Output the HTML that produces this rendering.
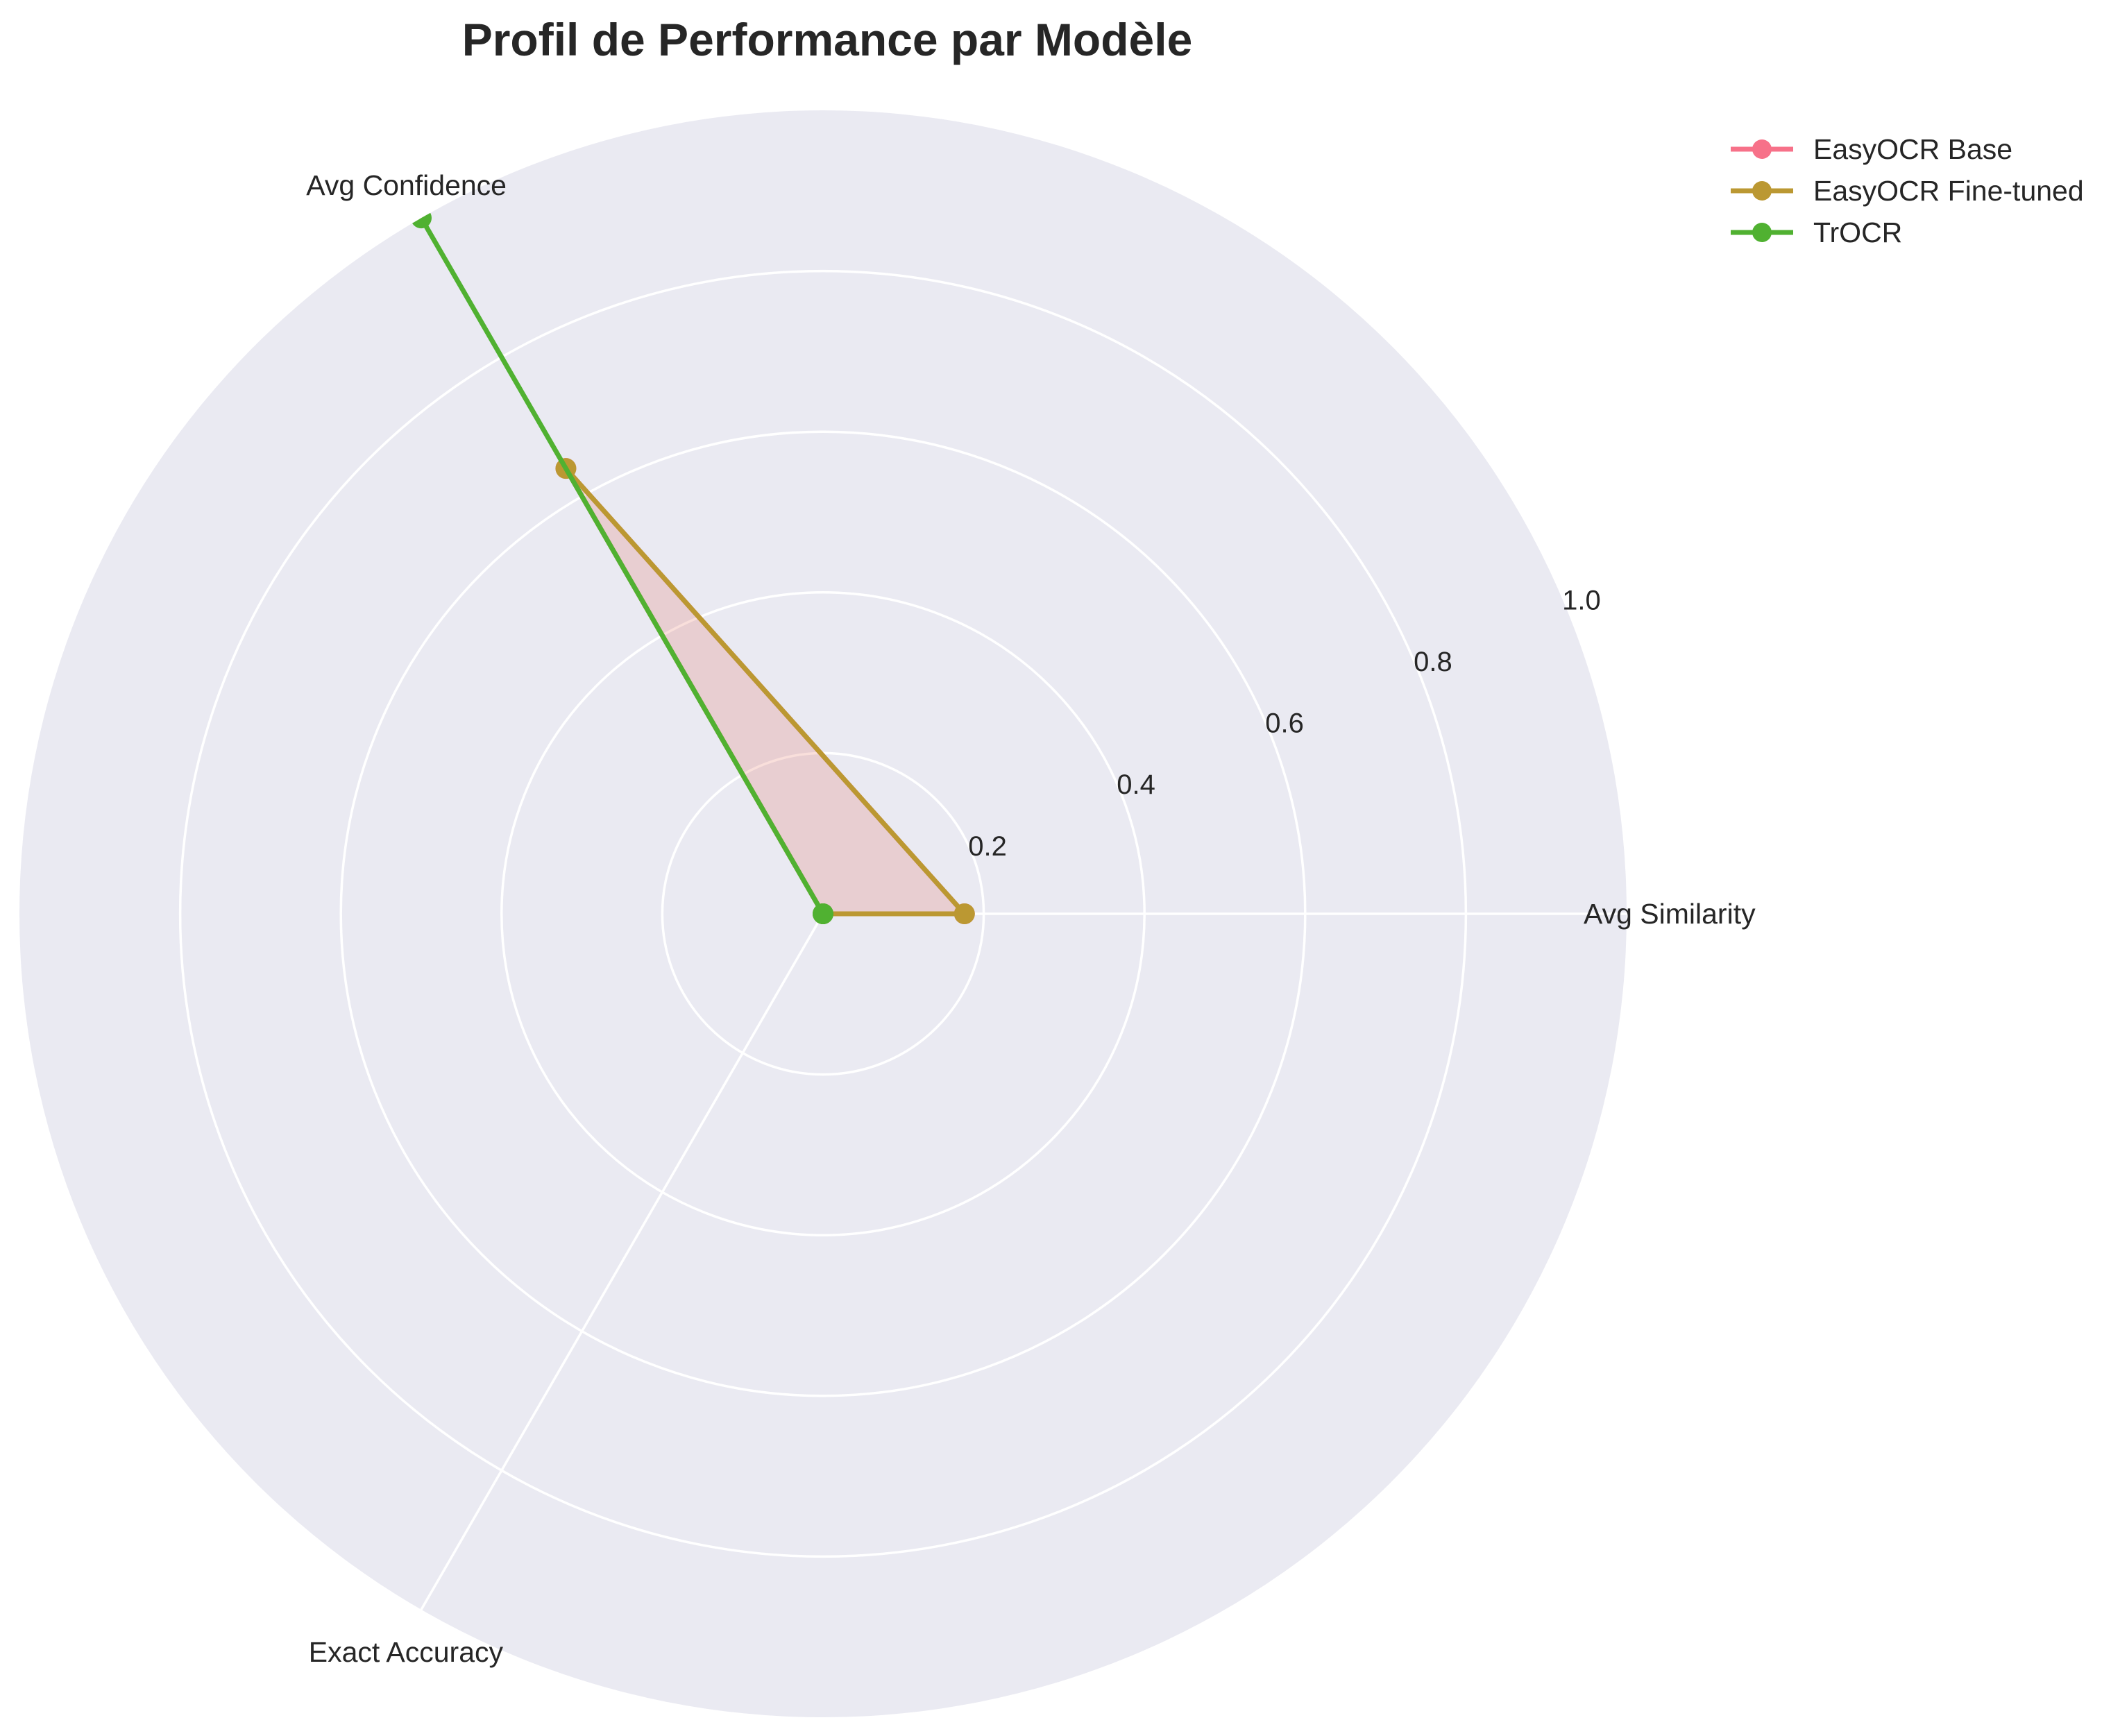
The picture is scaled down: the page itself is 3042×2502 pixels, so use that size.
<!DOCTYPE html>
<html><head><meta charset="utf-8"><style>
html,body{margin:0;padding:0;background:#fff;}
svg{display:block;font-family:"Liberation Sans",Arial,sans-serif;}
</style></head><body>
<svg id="chart" width="3042" height="2502" viewBox="0 0 3042 2502">
<text x="1192" y="80" text-anchor="middle" font-size="66" font-weight="bold" fill="#262626">Profil de Performance par Modèle</text>
<g id="plot"></g>
<g id="legend"></g>
</svg>
<script>
const categories = ["Avg Similarity", "Avg Confidence", "Exact Accuracy"];
const seriesNames = ["EasyOCR Base", "EasyOCR Fine-tuned", "TrOCR"];
const easyBase = [0.176, 0.64, 0.0];
const easyFine = [0.176, 0.64, 0.0];
const trocr = [0.0, 1.0, 0.0];
const rTicks = [0.2, 0.4, 0.6, 0.8, 1.0];
const rTickLabels = ["0.2", "0.4", "0.6", "0.8", "1.0"];

const NS = "http://www.w3.org/2000/svg";
const cx = 1186, cy = 1317, R = 1158;
const colors = ["#f77189", "#bb9832", "#50b131"];
const fills = ["rgba(247,113,137,0.18)", "rgba(187,152,50,0.08)", "rgba(80,177,49,0.0)"];
const data = [easyBase, easyFine, trocr];
function rScale(v){ return v * R; }
function ang(i){ return i * 2 * Math.PI / categories.length; }
function pt(i, v){ const a = ang(i), r = rScale(v); return [cx + r*Math.cos(a), cy - r*Math.sin(a)]; }
function mk(tag, attrs, parent){ const e = document.createElementNS(NS, tag); for (const k in attrs) e.setAttribute(k, attrs[k]); parent.appendChild(e); return e; }
const plot = document.getElementById("plot");
const bg = mk("circle", {cx:cx, cy:cy, r:R, fill:"#eaeaf2"}, plot);


rTicks.forEach((t, k) => {
  if (t < 1) {
    const c = mk("circle", {cx:cx, cy:cy, r:rScale(t), fill:"none", stroke:"#fff", "stroke-width":3.5}, plot);
    
    
  }
  const a = 22.5 * Math.PI/180, r = rScale(t) + 25;
  const tx = mk("text", {x: cx + r*Math.cos(a), y: cy - r*Math.sin(a) + 14, "text-anchor":"middle", "font-size":40, fill:"#262626"}, plot);
  tx.textContent = rTickLabels[k];
  
  
});
categories.forEach((c, i) => {
  const [x, y] = pt(i, 1);
  const l = mk("line", {x1:cx, y1:cy, x2:x, y2:y, stroke:"#fff", "stroke-width":3.5}, plot);
  
  
});
const labelPos = [[2282, 1331, "start"], [730, 281, "end"], [725, 2395, "end"]];
categories.forEach((c, i) => {
  const t = mk("text", {x:labelPos[i][0], y:labelPos[i][1], "text-anchor":labelPos[i][2], "font-size":41, fill:"#262626"}, plot);
  t.textContent = c;
  
  
});
data.forEach((vals, s) => {
  const pts = vals.map((v, i) => pt(i, v));
  const d = pts.map(p => p.join(",")).join(" ");
  const f = mk("polygon", {points:d, fill:fills[s], stroke:"none"}, plot);
  
  
});
data.forEach((vals, s) => {
  const pts = vals.map((v, i) => pt(i, v));
  const d = pts.map(p => p.join(",")).join(" ");
  const g = mk("g", {"clip-path":"url(#clipc)"}, plot);
  const pl = mk("polygon", {points:d, fill:"none", stroke:colors[s], "stroke-width":7, "stroke-linejoin":"round"}, g);
  
  
  pts.forEach(p => {
    const m = mk("circle", {cx:p[0], cy:p[1], r:15, fill:colors[s]}, g);
    
    
  });
});
const defs = mk("defs", {}, document.getElementById("chart"));
const cp = mk("clipPath", {id:"clipc"}, defs);
mk("circle", {cx:cx, cy:cy, r:R}, cp);
const leg = document.getElementById("legend");
seriesNames.forEach((n, s) => {
  const y = 215 + s*60;
  const l = mk("line", {x1:2494, y1:y, x2:2584, y2:y, stroke:colors[s], "stroke-width":7}, leg);
  
  
  const c = mk("circle", {cx:2539, cy:y, r:14, fill:colors[s]}, leg);
  
  
  const t = mk("text", {x:2613, y:y+14, "font-size":41, fill:"#262626"}, leg);
  t.textContent = n;
  
  
});
</script>
</body></html>
